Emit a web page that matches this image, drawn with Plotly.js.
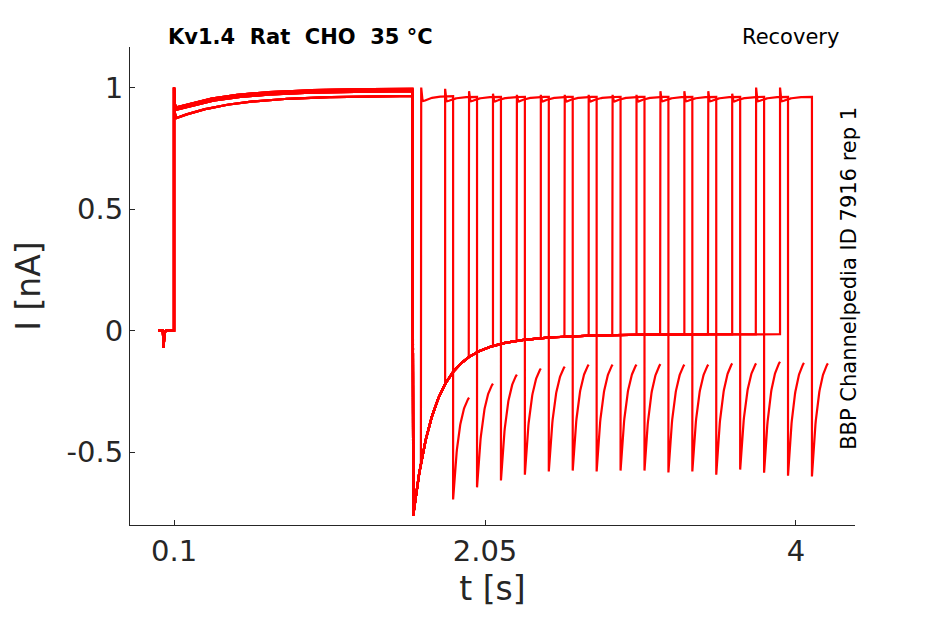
<!DOCTYPE html>
<html>
<head>
<meta charset="utf-8">
<script src="https://cdn.plot.ly/plotly-3.0.1.min.js"></script>
<style>body{margin:0}#chart{width:945px;height:624px}</style>
</head>
<body>
<div id="chart"></div>
<script>
// protocol timing (seconds)
const pulse1Start = 0.1
const pulse1End = 1.6
const secondOnsets = [1.65, 1.80, 1.95, 2.10, 2.25, 2.40, 2.55, 2.70, 2.85, 3.00, 3.15, 3.30, 3.45, 3.60, 3.75, 3.90]
const secondDuration = 0.2
const tailDuration = 0.1

// current levels (nA)
const pulse1Dip = [0.87, 0.905, 0.91, 0.915]
const pulse1Final = [0.965, 0.985, 0.99, 0.995]
const secondPeaks = [1.0, 0.995, 0.985, 0.975, 0.97, 0.97, 0.97, 0.97, 0.97, 0.97, 0.985, 0.985, 0.985, 0.975, 1.0, 1.0]
const secondPlateau = [0.965, 0.962, 0.962, 0.962, 0.962, 0.962, 0.962, 0.962, 0.962, 0.962, 0.962, 0.962, 0.962, 0.962, 0.962, 0.962]
const tailMins = [-0.695, -0.645, -0.617, -0.593, -0.58, -0.576, -0.58, -0.576, -0.576, -0.584, -0.58, -0.593, -0.572, -0.585, -0.597, -0.60]
const tailEnds = [-0.276, -0.218, -0.181, -0.156, -0.148, -0.14, -0.14, -0.14, -0.138, -0.14, -0.14, -0.135, -0.135, -0.128, -0.133, -0.135]
const tail1Min = -0.76
const tail1Rest = -0.015

function buildTrace(k) {
  const x = [], y = []
  const push = (t, v) => { x.push(t); y.push(v) }
  // holding with small artefact
  push(0, 0); push(0.03, 0); push(0.035, -0.07); push(0.04, -0.01); push(0.05, 0); push(pulse1Start, 0)
  // first pulse
  const dip = pulse1Dip[k % pulse1Dip.length], fin = pulse1Final[k % pulse1Final.length]
  push(pulse1Start, 1.0)
  for (let t = 0.005; t <= pulse1End - pulse1Start + 1e-9; t += 0.01) {
    const drop = (1.0 - dip) * Math.exp(-t / 0.003)
    const rise = (fin - dip) * (1 - Math.exp(-t / 0.35)) / (1 - Math.exp(-1.5 / 0.35))
    push(pulse1Start + t, dip + rise + drop)
  }
  // tail after first pulse until second onset
  const on = secondOnsets[k]
  const a2 = tail1Min - tail1Rest + 0.22
  for (let t = 0; t <= on - pulse1End + 1e-9; t += 0.004) {
    push(pulse1End + t, tail1Rest - 0.22 * Math.exp(-t / 0.3) + a2 * Math.exp(-t / 0.115))
  }
  // second pulse
  const pk = secondPeaks[k], pl = secondPlateau[k], d2 = 0.935
  push(on, pk)
  for (let t = 0.004; t <= secondDuration + 1e-9; t += 0.004) {
    const drop = (pk - d2) * Math.exp(-t / 0.004)
    const rise = (pl - d2) * (1 - Math.exp(-t / 0.05)) / (1 - Math.exp(-secondDuration / 0.05))
    push(on + t, d2 + rise + drop)
  }
  // tail after second pulse
  const off = on + secondDuration, m = tailMins[k], e = tailEnds[k]
  for (let t = 0; t <= tailDuration + 1e-9; t += 0.002) {
    push(off + t, m + (e - m) * (1 - Math.exp(-t / 0.04)) / (1 - Math.exp(-tailDuration / 0.04)))
  }
  return { x, y, type: 'scatter', mode: 'lines', line: { color: '#ff0000', width: 2.2 }, hoverinfo: 'skip' }
}

const traces = secondOnsets.map((_, k) => buildTrace(k))

const layout = {
  width: 945,
  height: 624,
  margin: { l: 130, r: 90, t: 47, b: 99 },
  paper_bgcolor: '#ffffff',
  plot_bgcolor: '#ffffff',
  showlegend: false,
  font: { family: 'DejaVu Sans, sans-serif', color: '#262626' },
  xaxis: {
    range: [-0.176, 4.37],
    tickvals: [0.1, 2.05, 4],
    ticktext: ['0.1', '2.05', '4'],
    ticks: 'inside',
    ticklen: 5,
    tickcolor: '#262626',
    tickfont: { size: 29 },
    showline: true,
    linecolor: '#262626',
    showgrid: false,
    zeroline: false,
    title: { text: 't [s]', font: { size: 33 }, standoff: 10 }
  },
  yaxis: {
    range: [-0.8, 1.167],
    tickvals: [-0.5, 0, 0.5, 1],
    ticktext: ['-0.5', '0', '0.5', '1'],
    ticks: 'inside',
    ticklen: 5,
    tickcolor: '#262626',
    tickfont: { size: 29 },
    showline: true,
    linecolor: '#262626',
    showgrid: false,
    zeroline: false,
    title: { text: 'I [nA]', font: { size: 33 }, standoff: 16 }
  },
  annotations: [
    { text: '<b>Kv1.4  Rat  CHO  35 °C</b>', xref: 'paper', yref: 'paper', x: 0.05, y: 1.0, xanchor: 'left', yanchor: 'bottom', yshift: -4, showarrow: false, font: { size: 21, color: '#000000' } },
    { text: 'Recovery', xref: 'paper', yref: 'paper', x: 0.98, y: 1.0, xanchor: 'right', yanchor: 'bottom', yshift: -4, showarrow: false, font: { size: 21, color: '#000000' } },
    { text: 'BBP Channelpedia ID 7916 rep 1', xref: 'paper', yref: 'paper', x: 1.0, y: 0.515, xanchor: 'center', yanchor: 'middle', xshift: -6, textangle: -90, showarrow: false, font: { size: 21, color: '#000000' } }
  ]
}

Plotly.newPlot('chart', traces, layout, { displayModeBar: false, staticPlot: true })
</script>
</body>
</html>
